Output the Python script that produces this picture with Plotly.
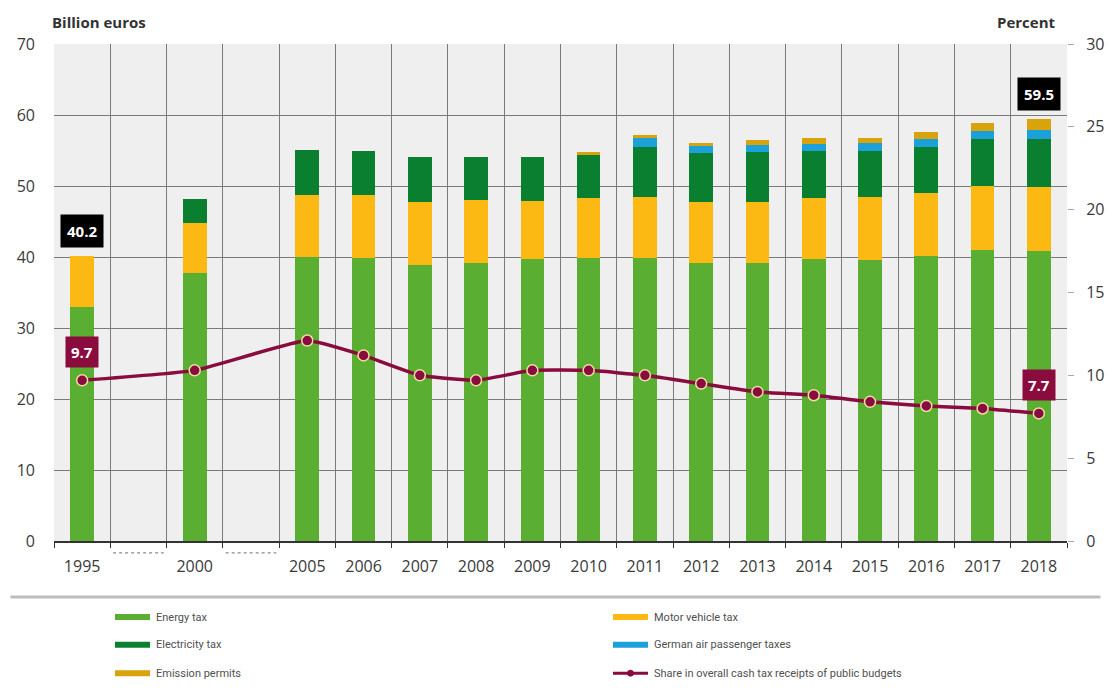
import plotly.graph_objects as go

# ---------------- data ----------------
categories = ["1995", "gap1", "2000", "gap2", "2005", "2006", "2007", "2008", "2009",
              "2010", "2011", "2012", "2013", "2014", "2015", "2016", "2017", "2018"]
years = ["1995", "2000", "2005", "2006", "2007", "2008", "2009", "2010", "2011",
         "2012", "2013", "2014", "2015", "2016", "2017", "2018"]
energy_tax = [33.0, 37.8, 40.0, 39.9, 38.9, 39.2, 39.7, 39.8, 39.9, 39.2, 39.2, 39.7, 39.6, 40.1, 41.0, 40.9]
motor_vehicle_tax = [7.2, 7.0, 8.7, 8.8, 8.9, 8.8, 8.2, 8.5, 8.5, 8.5, 8.5, 8.6, 8.8, 8.9, 9.0, 9.0]
electricity_tax = [None, 3.3, 6.4, 6.2, 6.3, 6.1, 6.2, 6.1, 7.1, 7.0, 7.1, 6.6, 6.6, 6.5, 6.6, 6.7]
air_passenger_tax = [None, None, None, None, None, None, None, None, 1.2, 0.9, 1.0, 1.0, 1.0, 1.1, 1.2, 1.3]
emission_permits = [None, None, None, None, None, None, None, 0.4, 0.5, 0.4, 0.7, 0.8, 0.8, 1.0, 1.1, 1.6]
share_percent = [9.7, 10.3, 12.1, 11.2, 10.0, 9.7, 10.3, 10.3, 10.0, 9.5, 9.0, 8.8, 8.4, 8.15, 8.0, 7.7]
total_labels = {"1995": "40.2", "2018": "59.5"}
share_labels = {"1995": "9.7", "2018": "7.7"}
gap_categories = ["gap1", "gap2"]

# ---------------- style ----------------
C_ENERGY = "#5AAE32"
C_MOTOR = "#FCB813"
C_ELEC = "#0A7F2F"
C_AIR = "#1CA0DA"
C_EMIS = "#D9A30C"
C_SHARE = "#8A0B3D"
FONT = "Open Sans"
TICKCOL = "#3a3a3a"
GRID = "#7a7a7a"

fig = go.Figure()

bar_series = [
    ("Energy tax", energy_tax, C_ENERGY),
    ("Motor vehicle tax", motor_vehicle_tax, C_MOTOR),
    ("Electricity tax", electricity_tax, C_ELEC),
    ("German air passenger taxes", air_passenger_tax, C_AIR),
    ("Emission permits", emission_permits, C_EMIS),
]
for name, vals, col in bar_series:
    fig.add_trace(go.Bar(x=years, y=vals, name=name, marker=dict(color=col, line=dict(width=0)),
                         showlegend=False, hoverinfo="x+y+name"))

share_name = "Share in overall cash tax receipts of public budgets"
fig.add_trace(go.Scatter(
    x=years, y=share_percent, yaxis="y2", mode="lines+markers", showlegend=False,
    name=share_name,
    line=dict(color=C_SHARE, width=3.5, shape="spline", smoothing=0.4),
    marker=dict(size=11, color=C_SHARE, line=dict(color="#F2DDA6", width=1.5)),
))

# ---------------- annotations ----------------
annotations = [
    dict(text="<b>Billion euros</b>", xref="paper", yref="paper", x=-0.004, y=1.044,
         xanchor="left", yanchor="middle", showarrow=False,
         font=dict(family=FONT, size=15, color="#333333")),
    dict(text="<b>Percent</b>", xref="paper", yref="paper", x=0.991, y=1.044,
         xanchor="right", yanchor="middle", showarrow=False,
         font=dict(family=FONT, size=15, color="#333333")),
]
totals = {y: sum(v for v in (e, m, el, a, em) if v is not None)
          for y, e, m, el, a, em in zip(years, energy_tax, motor_vehicle_tax, electricity_tax,
                                        air_passenger_tax, emission_permits)}
for yr, txt in total_labels.items():
    annotations.append(dict(text=f"<b>{txt}</b>", x=categories.index(yr), y=totals[yr],
                            xref="x", yref="y", yanchor="bottom", yshift=8, showarrow=False,
                            bgcolor="#000000", borderpad=6,
                            font=dict(family=FONT, size=15, color="white")))
for yr, txt in share_labels.items():
    annotations.append(dict(text=f"<b>{txt}</b>", x=categories.index(yr),
                            y=share_percent[years.index(yr)],
                            xref="x", yref="y2", yanchor="bottom", yshift=12, showarrow=False,
                            bgcolor=C_SHARE, borderpad=5,
                            font=dict(family=FONT, size=15, color="white")))

shapes = [
    dict(type="line", xref="paper", yref="paper", x0=-0.043, x1=1.033, y0=-0.1127, y1=-0.1127,
         line=dict(color="#bdbdbd", width=3)),
]
for g in gap_categories:
    idx = categories.index(g)
    shapes.append(dict(type="line", xref="x", yref="paper", x0=idx - 0.45, x1=idx + 0.45,
                       y0=-0.024, y1=-0.024, line=dict(color="#8a8a8a", width=1.3, dash="dot")))

# ---------------- legend (drawn manually, two columns) ----------------
legend_items = [
    ("Energy tax", C_ENERGY, 0, 0),
    ("Motor vehicle tax", C_MOTOR, 1, 0),
    ("Electricity tax", C_ELEC, 0, 1),
    ("German air passenger taxes", C_AIR, 1, 1),
    ("Emission permits", C_EMIS, 0, 2),
    (share_name, C_SHARE, 1, 2),
]
col_x = [0.0602, 0.5518]
row_y = [-0.153, -0.209, -0.266]
sw_w = 0.0346
for name, col, c, r in legend_items:
    x0 = col_x[c]
    y0 = row_y[r]
    is_line = name == share_name
    shapes.append(dict(type="line", xref="paper", yref="paper", x0=x0, x1=x0 + sw_w,
                       y0=y0, y1=y0, line=dict(color=col, width=3 if is_line else 6)))
    if is_line:
        xc = x0 + sw_w / 2
        shapes.append(dict(type="circle", xref="paper", yref="paper",
                           x0=xc - 0.003, x1=xc + 0.003, y0=y0 - 0.006, y1=y0 + 0.006,
                           fillcolor=col, line=dict(color=col, width=1)))
    annotations.append(dict(text=name, xref="paper", yref="paper", x=x0 + sw_w + 0.004, y=y0,
                            xanchor="left", yanchor="middle", showarrow=False,
                            font=dict(family="Roboto", size=11, color="#505050")))

fig.update_layout(
    width=1108, height=689,
    margin=dict(l=54, r=41, t=44, b=148),
    paper_bgcolor="white", plot_bgcolor="#EFEFEF",
    barmode="stack", bargap=0.58, showlegend=False,
    font=dict(family=FONT, color=TICKCOL),
    xaxis=dict(type="category", categoryorder="array", categoryarray=categories,
               range=[-0.5, len(categories) - 0.5], tickson="boundaries",
               labelalias={g: " " for g in gap_categories}, automargin=False,
               showgrid=True, gridcolor=GRID, gridwidth=1,
               ticks="outside", ticklen=5, tickcolor="#333333",
               showline=True, linecolor="#333333", linewidth=1.5,
               tickfont=dict(family=FONT, size=16, color=TICKCOL), ticklabelstandoff=10),
    yaxis=dict(range=[0, 70], dtick=10, showgrid=True, gridcolor=GRID, gridwidth=1,
               zeroline=False, ticks="", ticklabelstandoff=18, automargin=False,
               tickfont=dict(family=FONT, size=16, color=TICKCOL)),
    yaxis2=dict(range=[0, 30], dtick=5, overlaying="y", side="right", showgrid=False,
                zeroline=False, ticks="outside", ticklen=6, tickcolor="#aaaaaa",
                automargin=False,
                ticklabelstandoff=9, tickfont=dict(family=FONT, size=16, color=TICKCOL)),
    annotations=annotations, shapes=shapes,
)

fig.write_html(
    "out.html",
    config={"displayModeBar": False},
    post_script=("document.body.style.margin='0';"
                 "document.body.style.overflow='hidden';"
                 "document.documentElement.style.overflow='hidden';"),
)
